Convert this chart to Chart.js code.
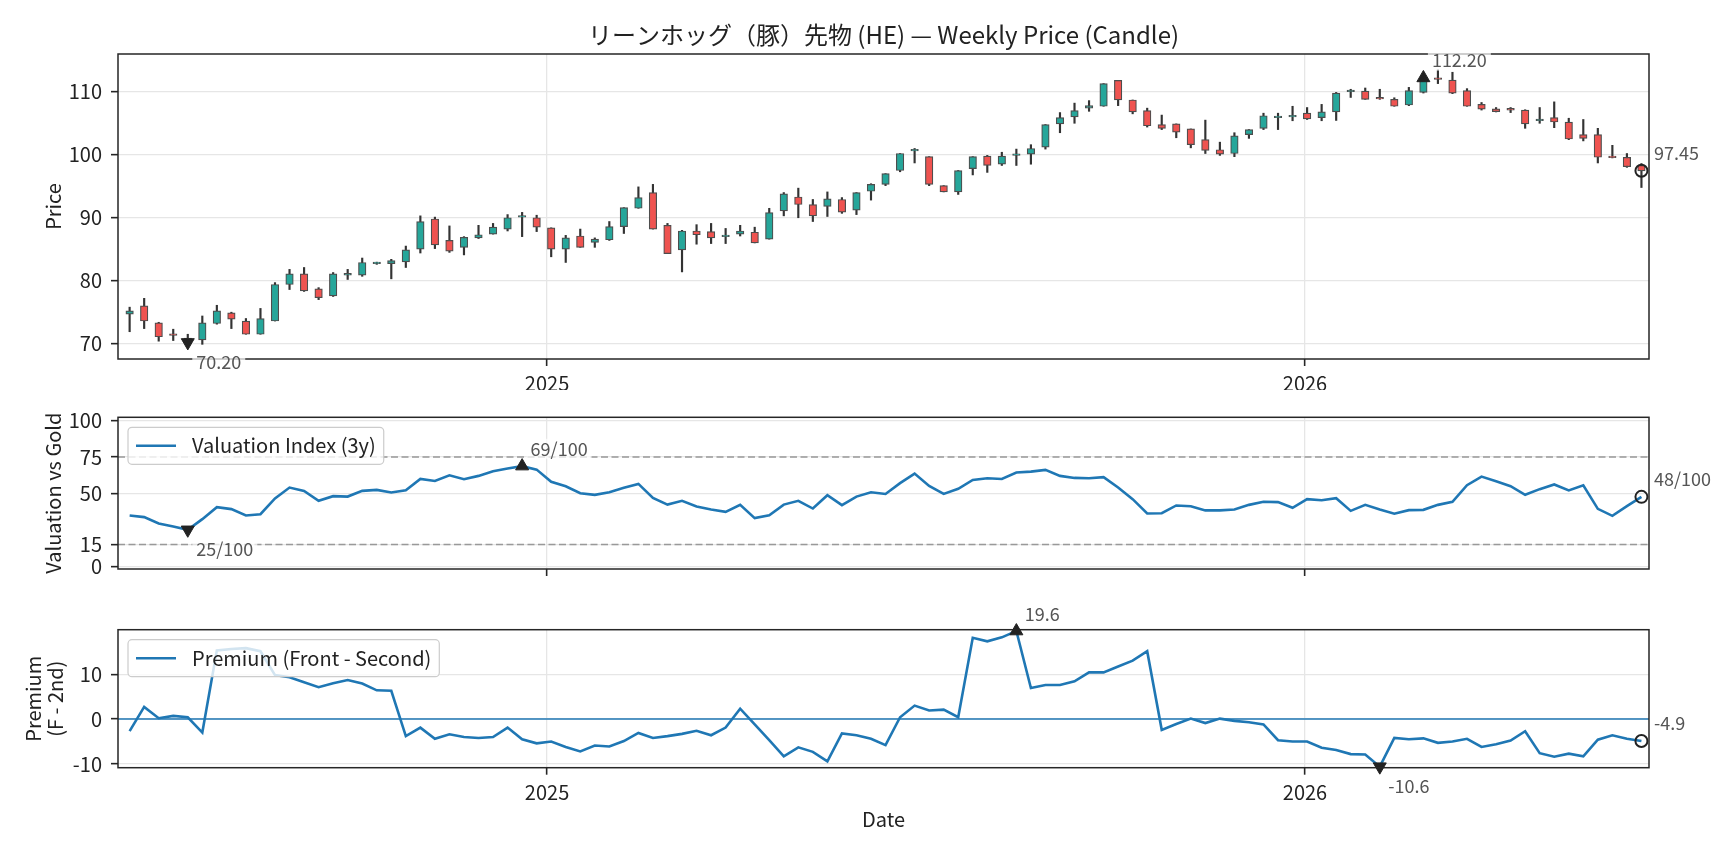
<!DOCTYPE html>
<html>
<head>
<meta charset="utf-8">
<title>Lean Hog weekly</title>
<script src="https://cdn.jsdelivr.net/npm/chart.js@4.4.1/dist/chart.umd.min.js"></script>
<style>
  body { margin: 0; background: #fff; width: 1728px; height: 849px; overflow: hidden; position: relative; }
  canvas { position: absolute; left: 0; }
</style>
</head>
<body>
<canvas id="priceChart" width="1728" height="390" style="top:0px"></canvas>
<canvas id="valChart" width="1728" height="200" style="top:390px"></canvas>
<canvas id="premChart" width="1728" height="259" style="top:590px"></canvas>

<script>
// weekly candles, first week starts 2024-06-14
var firstWeek = '2024-06-14'
var yearLabels = ['2025', '2026']

var opens = [74.7,76.0,73.3,71.4,70.9,70.6,73.2,74.9,73.6,71.5,
  73.6,79.4,81.1,78.7,77.6,80.9,80.9,82.7,82.7,83.0,
  85.0,89.8,86.4,85.3,86.8,87.4,88.2,90.1,90.0,88.4,
  85.0,87.1,86.1,86.5,88.6,91.5,94.0,88.8,84.9,87.9,
  87.8,87.0,87.4,87.7,86.6,91.1,93.3,92.1,91.8,92.9,
  91.2,94.2,95.3,97.5,100.6,99.7,95.1,94.1,97.8,99.8,
  98.5,99.9,100.1,101.2,104.9,106.0,107.4,107.7,111.8,108.7,
  107.0,104.8,104.9,104.1,102.4,100.8,100.2,103.2,104.2,105.9,
  106.0,106.6,105.9,106.8,110.0,110.1,108.95,108.8,107.9,109.9,
  112.1,111.85,110.2,108.0,107.3,107.2,107.1,105.4,105.9,105.2,
  103.2,103.2,99.6,99.6,98.3]
var highs = [75.8,77.2,73.4,72.3,71.5,74.4,76.1,75.0,74.0,75.6,
  79.7,81.8,82.1,78.9,81.3,81.8,83.6,82.95,83.4,85.5,
  90.3,90.1,88.7,87.0,88.8,89.1,90.5,90.85,90.4,88.4,
  87.2,88.2,86.8,89.4,91.6,94.9,95.3,89.1,88.0,88.9,
  89.1,88.3,88.8,88.5,91.5,94.0,94.7,92.9,94.1,93.2,
  94.0,95.4,97.0,100.2,101.0,99.7,95.1,97.5,99.7,99.9,
  100.4,100.9,101.6,104.8,106.7,108.2,108.6,111.3,111.8,108.7,
  107.4,106.3,104.9,104.1,105.5,102.0,103.5,104.0,106.6,106.6,
  107.7,107.5,108.0,109.9,110.4,110.6,110.4,109.05,110.7,112.5,
  113.5,113.1,110.5,108.3,107.5,107.5,107.15,107.5,108.4,105.8,
  105.6,104.2,101.5,100.2,98.6]
var lows = [71.9,72.4,70.4,70.5,69.9,69.9,73.1,72.4,71.5,71.5,
  73.6,78.6,78.3,77.0,77.5,80.2,80.7,82.6,80.3,82.1,
  84.4,85.1,84.5,84.1,86.7,87.4,87.9,87.0,87.8,83.8,
  82.9,85.3,85.3,86.4,87.5,91.5,88.2,84.3,81.4,85.8,
  85.9,85.9,87.1,86.0,86.6,90.3,90.0,89.4,90.2,90.7,
  90.5,92.8,95.1,97.3,98.7,95.1,94.1,93.7,96.8,97.2,
  98.3,98.3,98.5,100.9,103.5,105.0,106.9,107.7,107.8,106.5,
  104.4,104.0,102.7,101.1,100.2,99.9,99.7,102.6,104.0,104.0,
  105.4,105.6,105.4,105.45,109.1,108.8,108.8,107.7,107.8,109.8,
  111.3,109.7,107.7,107.1,106.8,106.7,104.2,105.0,104.3,102.4,
  102.2,98.7,99.5,98.0,94.8]
var closes = [75.2,73.6,71.1,71.3,70.2,73.3,75.2,73.9,71.5,74.0,
  79.4,81.1,78.4,77.3,81.1,81.1,82.9,82.85,83.2,84.9,
  89.4,85.7,84.7,86.9,87.3,88.5,90.0,90.3,88.5,85.0,
  86.8,85.3,86.6,88.6,91.6,93.2,88.2,84.3,87.9,87.3,
  86.8,87.2,87.9,86.0,90.8,93.8,92.1,90.3,93.0,90.9,
  94.0,95.3,97.0,100.2,100.8,95.3,94.1,97.5,99.7,98.3,
  99.8,100.0,101.0,104.8,105.9,107.0,107.8,111.3,108.7,106.8,
  104.6,104.2,103.6,101.6,100.7,100.1,103.0,104.0,106.2,106.0,
  106.2,105.7,106.8,109.8,110.2,108.8,108.85,107.7,110.2,112.2,
  111.95,109.8,107.7,107.25,106.85,107.1,104.9,105.6,105.2,102.5,
  102.6,99.6,99.55,98.1,97.45]

// valuation index vs gold (0-100)
var valuation = [34.9,33.8,29.4,27.4,25.1,32.4,40.6,39.3,34.9,35.8,
  46.6,54.1,51.8,45.0,48.2,47.9,51.8,52.5,50.7,52.3,
  60.0,58.6,62.5,59.8,62.1,65.3,67.1,68.8,66.4,58.0,
  55.0,50.2,49.1,50.9,53.9,56.6,47.0,42.4,45.0,41.1,
  39.0,37.4,42.2,33.1,35.1,42.4,45.0,39.7,48.8,42.0,
  47.9,50.9,49.7,57.1,63.7,55.2,49.7,53.2,59.3,60.5,
  60.0,64.4,65.0,66.2,62.1,60.7,60.5,61.2,54.1,46.1,
  36.3,36.5,41.8,41.3,38.4,38.4,39.0,42.2,44.3,44.1,
  40.2,46.1,45.4,46.8,38.1,42.2,39.0,36.1,38.6,38.8,
  42.2,44.3,55.7,61.6,58.4,55.0,49.1,53.0,56.2,52.1,
  55.7,39.5,34.7,41.3,47.7]
var valBands = [15, 75]

// front minus second month
var premium = [-2.7,2.7,0.2,0.7,0.4,-3.0,15.3,15.6,15.8,15.1,
  9.8,9.3,8.2,7.1,8.0,8.7,7.9,6.4,6.3,-3.8,
  -1.9,-4.4,-3.4,-4.0,-4.2,-4.0,-1.9,-4.5,-5.4,-5.0,
  -6.2,-7.2,-5.9,-6.1,-4.9,-3.1,-4.2,-3.8,-3.3,-2.6,
  -3.6,-1.9,2.3,-1.2,-4.7,-8.3,-6.3,-7.3,-9.4,-3.2,
  -3.6,-4.4,-5.8,0.4,3.0,1.9,2.1,0.4,18.1,17.3,
  18.2,19.6,6.9,7.6,7.6,8.4,10.4,10.4,11.7,13.0,
  15.1,-2.4,-1.1,0.1,-0.9,0.1,-0.4,-0.7,-1.2,-4.7,
  -5.0,-5.0,-6.4,-6.9,-7.8,-7.9,-10.6,-4.2,-4.5,-4.3,
  -5.3,-5.0,-4.4,-6.2,-5.6,-4.8,-2.7,-7.6,-8.4,-7.7,
  -8.3,-4.6,-3.6,-4.4,-4.9]

var priceTicks = [70, 80, 90, 100, 110]
var valTicks = [0, 15, 50, 75, 100]
var premTicks = [-10, 0, 10]

var UP = '#26a69a', DOWN = '#ef5350', BLUE = '#1f77b4', INK = '#222222'
var FONT = '"Noto Sans CJK JP", "Noto Sans", sans-serif'
Chart.defaults.font.family = FONT
Chart.defaults.color = INK

var WEEK = 7 * 864e5
var t0 = Date.parse(firstWeek)
var yearPos = yearLabels.map(function(y){ return (Date.parse(y + '-01-01') - t0) / WEEK })
var weeks = closes.map(function(_, i){ return i })
var X_MIN = -0.8, X_MAX = 104.52

function extremes(arr){
  return {
    hi: arr.indexOf(Math.max.apply(null, arr)),
    lo: arr.indexOf(Math.min.apply(null, arr)),
    last: arr.length - 1
  }
}

function markerSets(arr){
  var e = extremes(arr)
  var base = {type: 'line', showLine: false, clip: false, pointBackgroundColor: INK, pointBorderColor: INK, pointBorderWidth: 1}
  return [
    Object.assign({}, base, {data: [{x: e.hi, y: arr[e.hi]}], pointStyle: 'triangle', pointRadius: 7.5}),
    Object.assign({}, base, {data: [{x: e.lo, y: arr[e.lo]}], pointStyle: 'triangle', pointRotation: 180, pointRadius: 7.5}),
    Object.assign({}, base, {data: [{x: e.last, y: arr[e.last]}], pointStyle: 'circle', pointRadius: 6,
      pointBackgroundColor: 'rgba(0,0,0,0)', pointBorderWidth: 2})
  ]
}

function notesFor(arr, fmt){
  var e = extremes(arr)
  return [
    {x: e.hi, y: arr[e.hi], text: fmt(arr[e.hi]), dx: 8.5, dy: -17.3},
    {x: e.lo, y: arr[e.lo], text: fmt(arr[e.lo]), dx: 8.5, dy: 19.5},
    {x: e.last, y: arr[e.last], text: fmt(arr[e.last]), dx: 12.5, dy: -17.5}
  ]
}

var gridOpts = {offset: false, color: '#e6e6e6', lineWidth: 1.3, tickLength: 7, tickColor: '#262626', tickWidth: 1.6}

function xScale(showLabels, axisHeight, title){
  return {
    type: 'linear', min: X_MIN, max: X_MAX, offset: false,
    afterBuildTicks: function(s){ s.ticks = yearPos.map(function(v){ return {value: v} }) },
    afterFit: function(s){ s.height = axisHeight },
    ticks: {display: showLabels, autoSkip: false, maxRotation: 0, padding: 5.5, font: {size: 20}, color: INK,
      callback: function(v, i){ return yearLabels[i] }},
    grid: gridOpts,
    border: {display: false},
    title: title ? {display: true, text: title, font: {size: 20}, color: INK, padding: {top: 0, bottom: 18}} : {display: false}
  }
}

function yScale(min, max, tickVals, title, titlePad, lh){
  return {
    type: 'linear', min: min, max: max,
    afterBuildTicks: function(s){ s.ticks = tickVals.map(function(v){ return {value: v} }) },
    afterFit: function(s){ s.width = 118 },
    ticks: {autoSkip: false, padding: 9, font: {size: 20}, color: INK},
    grid: gridOpts,
    border: {display: false},
    title: {display: true, text: title, color: INK, font: {size: 20, lineHeight: lh || 1.2}, padding: {top: titlePad, bottom: 0}}
  }
}

// axes box, legend and value notes
var frame = {
  id: 'frame',
  afterDatasetsDraw: function(chart){
    var a = chart.chartArea, ctx = chart.ctx
    ctx.save()
    ctx.strokeStyle = '#262626'
    ctx.lineWidth = 1.5
    ctx.strokeRect(a.left, a.top, a.right - a.left, a.bottom - a.top)
    ctx.restore()
  },
  afterDraw: function(chart, args, opts){
    var a = chart.chartArea, ctx = chart.ctx
    ctx.save()
    if(opts.legend){
      ctx.font = '20px ' + FONT
      var tw = ctx.measureText(opts.legend).width
      var lx = a.left + 10, ly = a.top + 10, lw = tw + 72, lh = 37
      ctx.beginPath()
      ctx.roundRect(lx, ly, lw, lh, 4)
      ctx.fillStyle = 'rgba(255,255,255,0.8)'
      ctx.fill()
      ctx.strokeStyle = '#cccccc'
      ctx.lineWidth = 1.2
      ctx.stroke()
      ctx.beginPath()
      ctx.moveTo(lx + 8, ly + lh / 2)
      ctx.lineTo(lx + 48, ly + lh / 2)
      ctx.strokeStyle = BLUE
      ctx.lineWidth = 2.6
      ctx.stroke()
      ctx.fillStyle = INK
      ctx.textBaseline = 'middle'
      ctx.fillText(opts.legend, lx + 64, ly + lh / 2)
    }
    ctx.font = '18px ' + FONT
    ctx.textBaseline = 'middle'
    ;(opts.notes || []).forEach(function(n){
      var px = chart.scales.x.getPixelForValue(n.x) + n.dx
      var py = chart.scales.y.getPixelForValue(n.y) + n.dy
      var w = ctx.measureText(n.text).width
      ctx.fillStyle = 'rgba(255,255,255,0.7)'
      ctx.fillRect(px - 4, py - 10, w + 8, 20)
      ctx.fillStyle = '#555555'
      ctx.fillText(n.text, px, py)
    })
    ctx.restore()
  }
}

var bodyColors = weeks.map(function(i){ return closes[i] >= opens[i] ? UP : DOWN })

new Chart(document.getElementById('priceChart'), {
  type: 'bar',
  data: {
    datasets: markerSets(closes).concat([
      {type: 'bar', data: weeks.map(function(i){ return {x: i, y: [opens[i], closes[i]]} }),
        backgroundColor: bodyColors, borderColor: '#4d4d4d', borderWidth: 1.2, borderSkipped: false,
        barThickness: 7.5, minBarLength: 1.6, grouped: false},
      {type: 'bar', data: weeks.map(function(i){ return {x: i, y: [lows[i], highs[i]]} }),
        backgroundColor: '#333333', borderWidth: 0, barThickness: 1.5, grouped: false}
    ])
  },
  options: {
    responsive: false, animation: false,
    layout: {padding: {top: 0, right: 79, bottom: 0, left: 0}},
    scales: {
      x: xScale(true, 31),
      y: yScale(67.57, 116.0, priceTicks, 'Price', 41)
    },
    plugins: {
      legend: {display: false}, tooltip: {enabled: false},
      title: {display: true, fullSize: false, text: 'リーンホッグ（豚）先物 (HE) — Weekly Price (Candle)',
        font: {size: 24, weight: 'normal'}, color: INK, padding: {top: 20, bottom: 5.2}},
      frame: {notes: notesFor(closes, function(v){ return v.toFixed(2) })}
    }
  },
  plugins: [frame]
})

function bandLine(v, color, width, dash){
  return {data: [{x: X_MIN, y: v}, {x: X_MAX, y: v}], borderColor: color, borderWidth: width,
    borderDash: dash, pointRadius: 0}
}

new Chart(document.getElementById('valChart'), {
  type: 'line',
  data: {
    datasets: markerSets(valuation).concat([
      {data: weeks.map(function(i){ return {x: i, y: valuation[i]} }), borderColor: BLUE, borderWidth: 2.6,
        pointRadius: 0, tension: 0}
    ]).concat(valBands.map(function(b){ return bandLine(b, '#999999', 1.5, [7, 3.5]) }))
  },
  options: {
    responsive: false, animation: false,
    layout: {padding: {top: 27.3, right: 79, bottom: 0, left: 0}},
    scales: {
      x: xScale(false, 20.7),
      y: yScale(-1.8, 102.3, valTicks, 'Valuation vs Gold', 41)
    },
    plugins: {
      legend: {display: false}, tooltip: {enabled: false},
      frame: {legend: 'Valuation Index (3y)', notes: notesFor(valuation, function(v){ return Math.round(v) + '/100' })}
    }
  },
  plugins: [frame]
})

new Chart(document.getElementById('premChart'), {
  type: 'line',
  data: {
    datasets: markerSets(premium).concat([
      bandLine(0, BLUE, 1.6, []),
      {data: weeks.map(function(i){ return {x: i, y: premium[i]} }), borderColor: BLUE, borderWidth: 2.6,
        pointRadius: 0, tension: 0}
    ])
  },
  options: {
    responsive: false, animation: false,
    layout: {padding: {top: 39.7, right: 79, bottom: 0, left: 0}},
    scales: {
      x: xScale(true, 81.3, 'Date'),
      y: yScale(-10.83, 19.9, premTicks, ['Premium', '(F - 2nd)'], 22.8, 1.1)
    },
    plugins: {
      legend: {display: false}, tooltip: {enabled: false},
      frame: {legend: 'Premium (Front - Second)', notes: notesFor(premium, function(v){ return v.toFixed(1) })}
    }
  },
  plugins: [frame]
})
</script>
</body>
</html>
